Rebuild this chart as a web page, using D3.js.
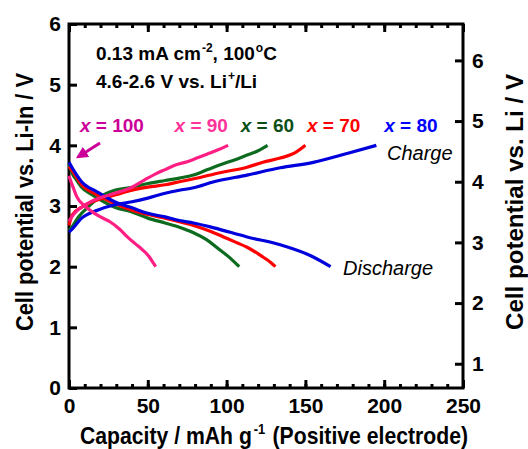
<!DOCTYPE html>
<html>
<head>
<meta charset="utf-8">
<script src="https://cdn.jsdelivr.net/npm/d3@7"></script>
<style>
  body { margin: 0; background: #fff; }
  text { font-family: "Liberation Sans", Arial, sans-serif; }
  .axis text { font-size: 21px; font-weight: bold; fill: #000; }
  .axis line, .axis path { stroke: #000; stroke-width: 3; }
</style>
</head>
<body>
<div id="chart"></div>
<script>
// capacity (mAh/g) , potential vs Li-In (V)
var x90Charge = [[0,2.75],[2,2.83],[5,2.92],[8,2.98],[13,3.06],[18,3.12],[24,3.17],[29,3.21],[35,3.26],[40,3.31],[48,3.43],[55,3.53],[61,3.60],[68,3.68],[75,3.73],[82,3.80],[88,3.86],[95,3.93],[101,4.0]];
var x90Discharge = [[0,3.5],[1,3.42],[3,3.28],[5,3.15],[10,3.0],[15,2.9],[20,2.82],[26,2.74],[32,2.62],[37,2.49],[42,2.38],[47,2.27],[51,2.16],[53,2.08],[55,2.0]];
var x60Charge = [[0,2.6],[2,2.66],[6,2.82],[12,2.98],[18,3.12],[24,3.21],[29,3.26],[40,3.31],[50,3.37],[61,3.42],[70,3.46],[79,3.51],[88,3.60],[96,3.68],[105,3.76],[113,3.84],[120,3.91],[126,4.0]];
var x60Discharge = [[0,3.7],[2,3.54],[5,3.42],[8,3.31],[13,3.21],[18,3.13],[29,2.98],[40,2.9],[50,2.8],[61,2.72],[70,2.65],[79,2.56],[87,2.45],[96,2.27],[101,2.17],[104,2.1],[108,2.0]];
var x70Charge = [[0,2.68],[2,2.85],[8,2.98],[18,3.1],[29,3.18],[40,3.26],[50,3.31],[61,3.35],[70,3.40],[83,3.47],[98,3.56],[113,3.64],[123,3.72],[134,3.79],[143,3.87],[150,4.0]];
var x70Discharge = [[0,3.65],[2,3.58],[8,3.35],[18,3.18],[29,3.04],[40,2.93],[50,2.86],[61,2.80],[70,2.74],[79,2.68],[90,2.58],[98,2.49],[106,2.40],[113,2.32],[123,2.16],[128,2.07],[131,2.0]];
var x80Charge = [[0,2.57],[2,2.62],[8,2.8],[18,2.93],[29,3.02],[40,3.07],[50,3.13],[61,3.21],[70,3.26],[79,3.30],[92,3.40],[113,3.51],[134,3.63],[155,3.72],[177,3.87],[195,4.0]];
var x80Discharge = [[0,3.72],[2,3.63],[8,3.40],[18,3.23],[29,3.07],[40,2.97],[50,2.88],[61,2.82],[70,2.76],[79,2.72],[92,2.64],[113,2.49],[134,2.36],[155,2.16],[166,2.0]];

var seriesNames = ["x = 60", "x = 70", "x = 80", "x = 90"];
var curveColors = ["#0d6b1f", "#ff0000", "#0000dd", "#ff1f84"];

var labelNames = ["100", "90", "60", "70", "80"];
var labelColors = ["#cc0099", "#ff3399", "#0b4f16", "#ff0000", "#0000ff"];
var labelX = [0, 60, 102, 144, 193]; // capacity where each label starts

var xTicks = [0, 50, 100, 150, 200, 250];
var yTicks = [0, 1, 2, 3, 4, 5, 6];
var yRightTicks = [1, 2, 3, 4, 5, 6];

var margin = {top: 24, right: 65, bottom: 61, left: 69},
    width = 528 - margin.left - margin.right,
    height = 449 - margin.top - margin.bottom;

var x = d3.scaleLinear().domain([0, 250]).range([0, width]);
var y = d3.scaleLinear().domain([0, 6]).range([height, 0]);
// vs. Li = vs. Li-In + 0.6
var yR = d3.scaleLinear().domain([0.6, 6.6]).range([height, 0]);

var svg = d3.select("#chart").append("svg")
    .attr("width", 528)
    .attr("height", 449)
  .append("g")
    .attr("transform", "translate(" + margin.left + "," + margin.top + ")");

var minor = d3.range(0, 251, 10);

// minor ticks bottom / top
svg.append("g").attr("class", "axis")
    .attr("transform", "translate(0," + height + ")")
    .call(d3.axisBottom(x).tickValues(minor).tickSize(-4).tickFormat(""))
    .select(".domain").remove();
svg.append("g").attr("class", "axis")
    .call(d3.axisTop(x).tickValues(minor).tickSize(-4).tickFormat(""))
    .select(".domain").remove();

svg.append("g").attr("class", "axis")
    .attr("transform", "translate(0," + height + ")")
    .call(d3.axisBottom(x).tickValues(xTicks).tickSize(-8).tickPadding(10).tickFormat(d3.format("d")))
    .select(".domain").remove();
svg.append("g").attr("class", "axis")
    .call(d3.axisTop(x).tickValues(xTicks).tickSize(-8).tickFormat(""))
    .select(".domain").remove();

svg.append("g").attr("class", "axis")
    .call(d3.axisLeft(y).tickValues(yTicks).tickSize(-8).tickPadding(8).tickFormat(d3.format("d")))
    .select(".domain").remove();

svg.append("g").attr("class", "axis")
    .attr("transform", "translate(" + width + ",0)")
    .call(d3.axisRight(yR).tickValues(yRightTicks).tickSize(-8).tickPadding(9).tickFormat(d3.format("d")))
    .select(".domain").remove();

// frame
svg.append("rect")
    .attr("width", width).attr("height", height)
    .attr("fill", "none").attr("stroke", "#000").attr("stroke-width", 3);

var line = d3.line()
    .x(function(d) { return x(d[0]); })
    .y(function(d) { return y(d[1]); })
    .curve(d3.curveMonotoneX);

var curves = [
  [x60Charge, x60Discharge],
  [x70Charge, x70Discharge],
  [x80Charge, x80Discharge],
  [x90Charge, x90Discharge]
];
curves.forEach(function(c, i) {
  c.forEach(function(data) {
    svg.append("path")
      .datum(data)
      .attr("class", "curve " + seriesNames[i])
      .attr("fill", "none")
      .attr("stroke", curveColors[i])
      .attr("stroke-width", 3.2)
      .attr("d", line);
  });
});

// labels x = ...
labelNames.forEach(function(n, i) {
  var t = svg.append("text")
    .attr("x", x(labelX[i]) + 11)
    .attr("y", 108)
    .attr("fill", labelColors[i])
    .style("font-size", "19px")
    .style("font-weight", "bold");
  t.append("tspan").style("font-style", "italic").text("x");
  t.append("tspan").text(" = " + n);
});

// arrow for x = 100
svg.append("defs").append("marker")
    .attr("id", "head").attr("viewBox", "0 0 10 10")
    .attr("refX", 8).attr("refY", 5)
    .attr("markerWidth", 4).attr("markerHeight", 4)
    .attr("orient", "auto")
  .append("path").attr("d", "M0,0 L10,5 L0,10 z").attr("fill", "#cc0099");
svg.append("line")
    .attr("x1", 31).attr("y1", 119)
    .attr("x2", 9).attr("y2", 133)
    .attr("stroke", "#cc0099").attr("stroke-width", 3)
    .attr("marker-end", "url(#head)");

// condition text
var info = svg.append("g").style("font-size", "19px").style("font-weight", "bold");
var t1 = info.append("text").attr("x", 27).attr("y", 36);
t1.append("tspan").text("0.13 mA cm");
t1.append("tspan").attr("dx", 1).attr("dy", -8).style("font-size", "12px").text("-2");
t1.append("tspan").attr("dy", 8).text(", 100");
t1.append("tspan").attr("dx", 1).attr("dy", -8).style("font-size", "12px").text("o");
t1.append("tspan").attr("dy", 8).text("C");
var t2 = info.append("text").attr("x", 27).attr("y", 64);
t2.append("tspan").text("4.6-2.6 V vs. Li");
t2.append("tspan").attr("dx", 1).attr("dy", -8).style("font-size", "12px").text("+");
t2.append("tspan").attr("dy", 8).text("/Li");

svg.append("text")
    .attr("x", 318).attr("y", 136)
    .style("font-size", "20px").style("font-style", "italic")
    .text("Charge");
svg.append("text")
    .attr("x", 274).attr("y", 251)
    .style("font-size", "20px").style("font-style", "italic")
    .text("Discharge");

// x axis title: pieces side by side, then squeezed to the picture's width
var xt = svg.append("g").style("font-weight", "bold");
var p1 = xt.append("text").style("font-size", "23px").text("Capacity / mAh g");
var w1 = p1.node().getComputedTextLength();
var p2 = xt.append("text").attr("x", w1 + 2).attr("y", -10).style("font-size", "14px").text("-1");
var w2 = p2.node().getComputedTextLength();
var gap = 8;
var p3 = xt.append("text").attr("x", w1 + w2 + 2 + gap).style("font-size", "23px").text("(Positive electrode)");
var w3 = p3.node().getComputedTextLength();
xt.attr("transform", "translate(11," + (height + 56) + ") scale(" + (388 / (w1 + w2 + w3 + 2 + gap)) + ",1)");

svg.append("text")
    .attr("transform", "translate(" + (-36) + "," + (height / 2 - 4) + ") rotate(-90)")
    .attr("text-anchor", "middle")
    .attr("textLength", 258).attr("lengthAdjust", "spacingAndGlyphs")
    .style("font-size", "23px").style("font-weight", "bold")
    .text("Cell potential vs. Li-In / V");

svg.append("text")
    .attr("transform", "translate(" + (width + 60) + "," + (height / 2 - 4) + ") rotate(-90)")
    .attr("text-anchor", "middle")
    .attr("textLength", 256).attr("lengthAdjust", "spacingAndGlyphs")
    .style("font-size", "23px").style("font-weight", "bold")
    .text("Cell potential vs. Li / V");
</script>
</body>
</html>
